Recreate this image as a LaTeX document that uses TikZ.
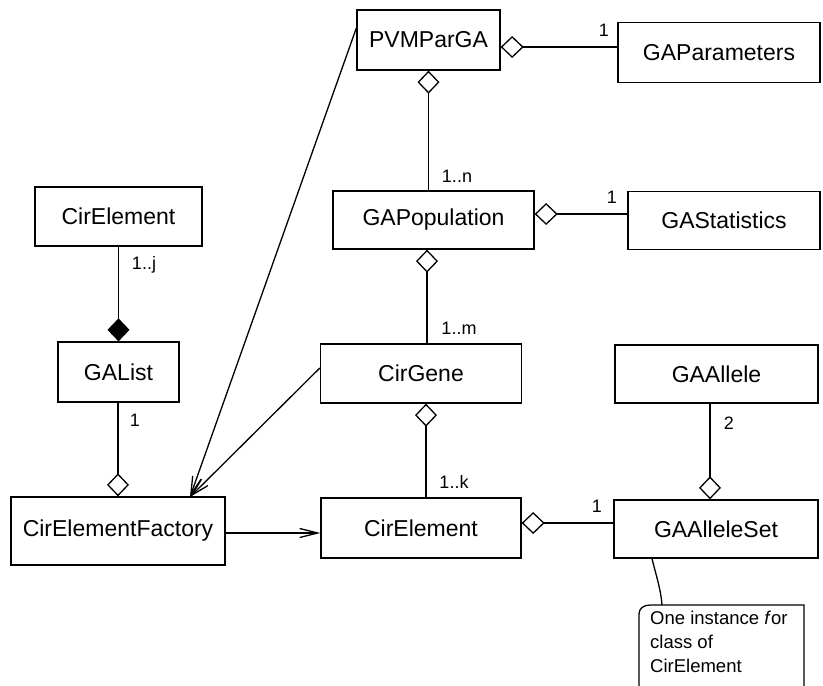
\documentclass[tikz,border=0pt]{standalone}
\usepackage{fontspec}
\setmainfont{Liberation Sans}
\usetikzlibrary{arrows.meta}
\tikzset{
  cls/.style={draw, line width=1.3pt, inner sep=0pt, font=\fontsize{23}{27}\selectfont},
  mult/.style={inner sep=0pt, font=\fontsize{18}{20}\selectfont},
  conn/.style={line width=1.3pt},
  agg/.style={conn, {Diamond[open, length=23pt, width=22pt, line width=1.3pt]}-},
  comp/.style={conn, {Diamond[fill=black, length=23pt, width=22pt]}-},
  nav/.style={conn, -{Straight Barb[length=18pt, width=9pt, line width=1.3pt]}},
}
\begin{document}
\begin{tikzpicture}[x=1pt, y=-1pt]
\useasboundingbox (0,0) rectangle (823,686);

% classes
\node[cls, minimum width=143pt, minimum height=60pt] (pvm)      at (428.5,40)  {PVMParGA};
\node[cls, minimum width=202pt, minimum height=60pt] (gapar)    at (719,52.5) {GAParameters};
\node[cls, minimum width=192pt, minimum height=58pt] (gastat)   at (724,220.5) {GAStatistics};
\node[cls, minimum width=201pt, minimum height=58pt] (gapop)    at (433.5,220) {GAPopulation};
\node[cls, minimum width=167pt, minimum height=59pt] (cirelL)   at (118.5,216.5) {CirElement};
\node[cls, minimum width=121pt, minimum height=60pt] (galist)   at (118.5,372) {GAList};
\node[cls, minimum width=201pt, minimum height=59pt] (cirgene)  at (421,373.5) {CirGene};
\node[cls, minimum width=203pt, minimum height=58pt] (gaallele) at (716.5,374) {GAAllele};
\node[cls, minimum width=214pt, minimum height=68pt] (factory)  at (118,531)   {CirElementFactory};
\node[cls, minimum width=200pt, minimum height=60pt] (cirel)    at (421,528)   {CirElement};
\node[cls, minimum width=204pt, minimum height=58pt] (gaas)     at (716,529)   {GAAlleleSet};

% aggregations and composition
\draw[agg] (pvm.east |- 0,47) -- (gapar.west |- 0,47);
\draw[agg] (pvm.south) -- (pvm.south |- gapop.north);
\draw[agg] (gapop.east |- 0,214) -- (gastat.west |- 0,214);
\draw[agg] (gapop.south -| 427,0) -- (cirgene.north -| 427,0);
\draw[agg] (cirgene.south -| 426,0) -- (cirel.north -| 426,0);
\draw[agg] (cirel.east |- 0,523) -- (gaas.west |- 0,523);
\draw[agg] (gaas.north -| 710,0) -- (gaallele.south -| 710,0);
\draw[comp] (galist.north) -- (cirelL.south);
\draw[agg] (factory.north -| 118,0) -- (galist.south -| 118,0);

% navigable associations
\coordinate (fin) at (190,497);
\draw[nav] (factory.east |- 0,533) -- (cirel.west |- 0,533);
\draw[nav] (pvm.west |- 0,28) -- (fin);
\draw[nav] (cirgene.west |- 0,368) -- (fin);

% multiplicities
\node[mult] (m1)  at (604,30)  {1};
\node[mult] (m2)  at (457,176) {1..n};
\node[mult] (m3)  at (612,197) {1};
\node[mult] (m4)  at (459,328) {1..m};
\node[mult] (m5)  at (454,482) {1..k};
\node[mult] (m6)  at (597,506) {1};
\node[mult] (m7)  at (729,423) {2};
\node[mult] (m8)  at (144,265) {1..j};
\node[mult] (m9)  at (135,420) {1};

% note
\draw[conn] (804,686) -- (804,605) -- (650,605)
  .. controls (643,605) and (639,609) .. (639,614) -- (639,686);
\node[anchor=north west, inner sep=0pt, align=left,
      font=\fontsize{18.5}{24}\selectfont] (note) at (650,611)
  {One instance \textit{f}or\\class of\\CirElement};
\coordinate (notetop) at (662,605);
\draw[conn] (gaas.south -| 652,0) .. controls (656,575) and (661,590) .. (notetop);
\end{tikzpicture}
\end{document}
